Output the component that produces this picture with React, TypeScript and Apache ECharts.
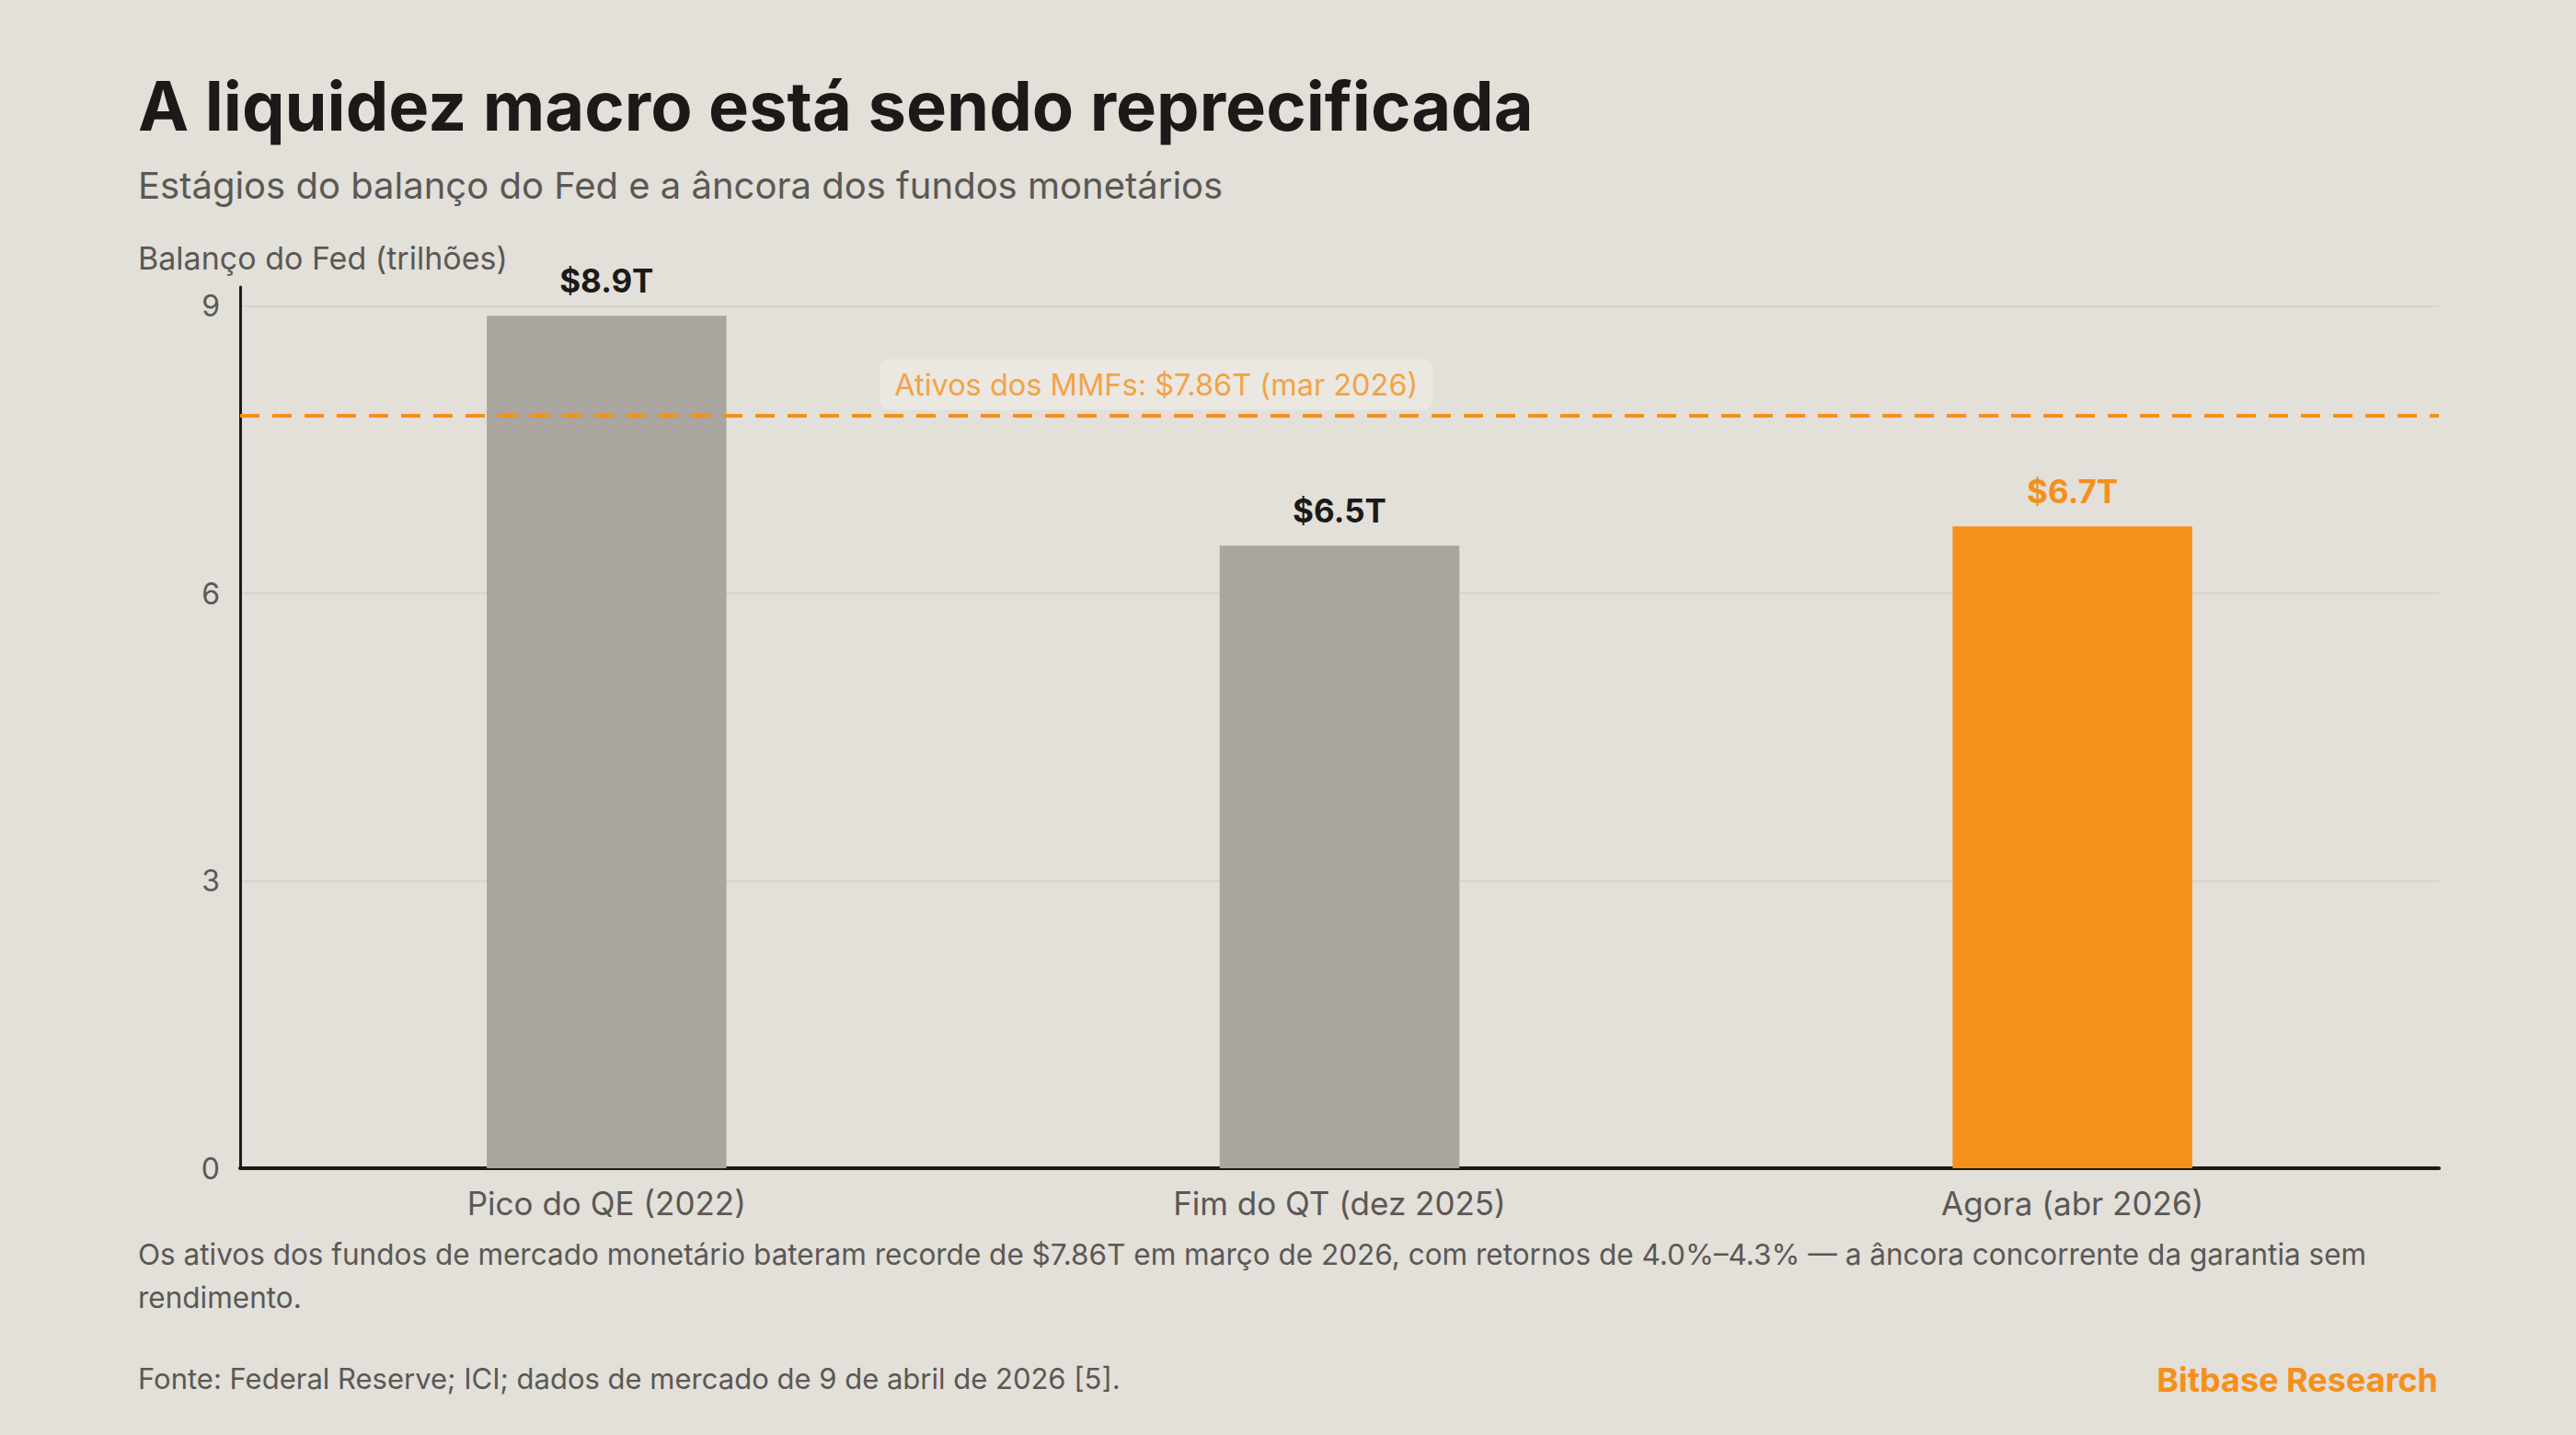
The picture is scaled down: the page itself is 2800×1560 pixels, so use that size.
import React, { useEffect, useRef } from "react";
import * as echarts from "echarts";

const categories = ["Pico do QE (2022)", "Fim do QT (dez 2025)", "Agora (abr 2026)"];
const balanceValues = [8.9, 6.5, 6.7];
const highlightIndex = 2;
const mmfAssets = 7.86;
const mmfLabel = "Ativos dos MMFs: $7.86T (mar 2026)";
const yTicks = [0, 3, 6, 9];

const BG = "#e3dfd9";
const GRAY = "#aaa59f";
const ORANGE = "#f5901a";
const INK = "#1b1a19";
const MUTED = "#5a5855";
const FONT = "Inter, 'Noto Sans', sans-serif";

const App: React.FC = () => {
  const chartRef = useRef<HTMLDivElement>(null);

  useEffect(() => {
    if (!chartRef.current) return;
    const chart = echarts.init(chartRef.current, undefined, { renderer: "svg" });

    const yMax = 9.2;
    const option = {
      animation: false,
      backgroundColor: BG,
      textStyle: { fontFamily: FONT },
      grid: { left: 261, right: 149, top: 312, bottom: 290, containLabel: false },
      xAxis: [
        {
          type: "category",
          data: categories,
          axisLine: { show: true, onZero: false, lineStyle: { color: INK, width: 4 } },
          axisTick: { show: false },
          axisLabel: { color: MUTED, fontSize: 35, margin: 20, fontFamily: FONT },
        },
        { type: "value", min: -0.5, max: 2.5, show: false },
      ],
      yAxis: {
        type: "value",
        min: yTicks[0],
        max: yMax,
        interval: 3,
        axisLine: { show: true, onZero: false, lineStyle: { color: INK, width: 3 } },
        axisTick: { show: false },
        axisLabel: {
          color: MUTED,
          fontSize: 32,
          margin: 22,
          fontFamily: FONT,
          formatter: (v: number) => (yTicks.includes(v) ? String(v) : ""),
        },
        splitLine: {
          show: true,
          lineStyle: { color: ["#d6d2cc", "#d6d2cc", "#d6d2cc", "#d6d2cc", "rgba(0,0,0,0)"], width: 2 },
        },
      },
      series: [
        {
          type: "bar",
          barWidth: "32.7%",
          z: 2,
          data: balanceValues.map((v, i) => ({
            value: v,
            itemStyle: { color: i === highlightIndex ? ORANGE : GRAY },
            label: { color: i === highlightIndex ? ORANGE : INK },
          })),
          label: {
            show: true,
            position: "top",
            distance: 21,
            fontSize: 35,
            fontWeight: "bold",
            fontFamily: FONT,
            formatter: (p: any) => `$${p.value}T`,
          },
          markLine: {
            silent: true,
            symbol: "none",
            label: { show: false },
            lineStyle: { color: ORANGE, width: 4, type: [21, 14] },
            data: [{ yAxis: mmfAssets }],
          },
        },
        {
          type: "scatter",
          xAxisIndex: 1,
          symbolSize: 0,
          silent: true,
          data: [[0.75, mmfAssets]],
          label: {
            show: true,
            position: "top",
            distance: 6,
            formatter: mmfLabel,
            color: ORANGE,
            fontSize: 32.5,
            fontFamily: FONT,
            backgroundColor: "#ece8e2",
            borderRadius: 10,
            padding: [11, 16],
          },
        },
      ],
      graphic: [
        {
          type: "text",
          left: 150,
          top: 78,
          style: {
            text: "A liquidez macro está sendo reprecificada",
            font: `bold 74px ${FONT}`,
            fill: INK,
          },
        },
        {
          type: "text",
          left: 150,
          top: 181,
          style: {
            text: "Estágios do balanço do Fed e a âncora dos fundos monetários",
            font: `40px ${FONT}`,
            fill: MUTED,
          },
        },
        {
          type: "text",
          left: 150,
          top: 263,
          style: {
            text: "Balanço do Fed (trilhões)",
            font: `34px ${FONT}`,
            fill: MUTED,
          },
        },
        {
          type: "text",
          left: 150,
          top: 1340,
          style: {
            text:
              "Os ativos dos fundos de mercado monetário bateram recorde de $7.86T em março de 2026, com retornos de 4.0%–4.3% — a âncora concorrente da garantia sem\nrendimento.",
            font: `31.5px ${FONT}`,
            lineHeight: 47,
            fill: MUTED,
          },
        },
        {
          type: "text",
          left: 150,
          top: 1483,
          style: {
            text: "Fonte: Federal Reserve; ICI; dados de mercado de 9 de abril de 2026 [5].",
            font: `31px ${FONT}`,
            fill: MUTED,
          },
        },
        {
          type: "text",
          right: 150,
          top: 1482,
          style: {
            text: "Bitbase Research",
            font: `bold 36px ${FONT}`,
            fill: ORANGE,
          },
        },
      ],
    };

    chart.setOption(option as any);
    const handleResize = () => chart.resize();
    window.addEventListener("resize", handleResize);
    return () => {
      window.removeEventListener("resize", handleResize);
      chart.dispose();
    };
  }, []);

  return (
    <div
      ref={chartRef}
      style={{ position: "fixed", left: 0, top: 0, width: "100vw", height: "100vh", background: BG }}
    />
  );
};

export default App;
